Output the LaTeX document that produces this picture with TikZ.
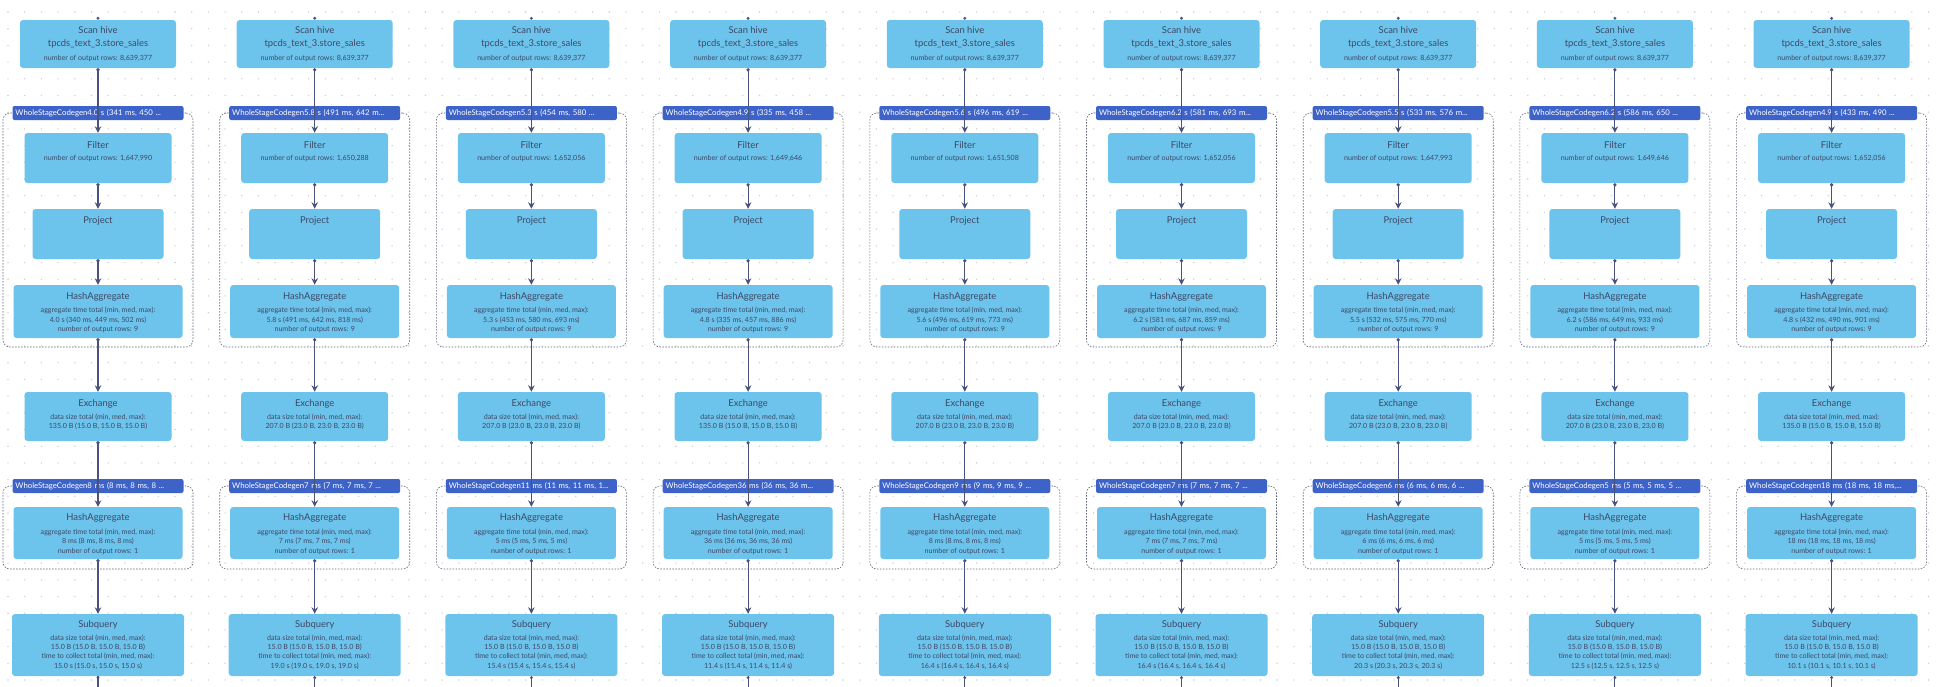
\documentclass[tikz,border=0pt]{standalone}
\usepackage{fontspec}
\setmainfont{Lato}
\usetikzlibrary{arrows.meta}
\definecolor{opfill}{RGB}{108,195,235}
\definecolor{optext}{RGB}{62,72,102}
\definecolor{wscgfill}{RGB}{61,99,201}
\definecolor{edgecol}{RGB}{72,82,125}
\definecolor{grpline}{RGB}{95,100,120}
\definecolor{griddot}{RGB}{205,208,216}

\begin{document}
\begin{tikzpicture}[x=1pt, y=-1pt,
    opbox/.style={fill=opfill, rounded corners=3pt, inner sep=0pt},
    optitle/.style={text=optext, font=\fontsize{9.4}{13}\selectfont, inner sep=0pt, align=center},
    opinfo/.style={text=optext, font=\fontsize{7.1}{9.3}\selectfont, inner sep=0pt, align=center},
    wscg/.style={fill=wscgfill, text=white, rounded corners=2pt, minimum height=14pt, text width=165pt, inner xsep=3pt, inner ysep=0pt, font=\fontsize{7.8}{9}\selectfont, align=left},
    grp/.style={draw=grpline, dash pattern=on 1.5pt off 1.5pt, line width=0.6pt, rounded corners=7pt, inner sep=0pt},
    flow/.style={draw=edgecol, line width=1.1pt, {Circle[length=3.2pt]}-{Stealth[length=6.5pt,width=6.5pt]}}
]
             \useasboundingbox (0,0) rectangle (1944,686);
             \begin{scope}
               \clip (0,0) rectangle (1944,686);
               \foreach \gx in {8,24.7,...,1944}
                 \foreach \gy in {12,28.7,...,686}
                   \fill[griddot] (\gx,\gy) circle (0.8pt);
             \end{scope}

             \foreach \i/\wsa/\flt/\hta/\exd/\wsb/\htb/\sqt [evaluate=\i as \cx using 98+216.7*(\i-1)] in {
               1/{4.0 s (341 ms, 450 ...}/{1,647,990}/{4.0 s (340 ms, 449 ms, 502 ms)}/{135.0 B (15.0 B, 15.0 B, 15.0 B)}/{8 ms (8 ms, 8 ms, 8 ...}/{8 ms (8 ms, 8 ms, 8 ms)}/{15.0 s (15.0 s, 15.0 s, 15.0 s)},
               2/{5.8 s (491 ms, 642 m...}/{1,650,288}/{5.8 s (491 ms, 642 ms, 818 ms)}/{207.0 B (23.0 B, 23.0 B, 23.0 B)}/{7 ms (7 ms, 7 ms, 7 ...}/{7 ms (7 ms, 7 ms, 7 ms)}/{19.0 s (19.0 s, 19.0 s, 19.0 s)},
               3/{5.3 s (454 ms, 580 ...}/{1,652,056}/{5.3 s (453 ms, 580 ms, 693 ms)}/{207.0 B (23.0 B, 23.0 B, 23.0 B)}/{11 ms (11 ms, 11 ms, 1...}/{5 ms (5 ms, 5 ms, 5 ms)}/{15.4 s (15.4 s, 15.4 s, 15.4 s)},
               4/{4.9 s (335 ms, 458 ...}/{1,649,646}/{4.8 s (335 ms, 457 ms, 886 ms)}/{135.0 B (15.0 B, 15.0 B, 15.0 B)}/{36 ms (36 ms, 36 m...}/{36 ms (36 ms, 36 ms, 36 ms)}/{11.4 s (11.4 s, 11.4 s, 11.4 s)},
               5/{5.6 s (496 ms, 619 ...}/{1,651,508}/{5.6 s (496 ms, 619 ms, 773 ms)}/{207.0 B (23.0 B, 23.0 B, 23.0 B)}/{9 ms (9 ms, 9 ms, 9 ...}/{8 ms (8 ms, 8 ms, 8 ms)}/{16.4 s (16.4 s, 16.4 s, 16.4 s)},
               6/{6.2 s (581 ms, 693 m...}/{1,652,056}/{6.2 s (581 ms, 687 ms, 859 ms)}/{207.0 B (23.0 B, 23.0 B, 23.0 B)}/{7 ms (7 ms, 7 ms, 7 ...}/{7 ms (7 ms, 7 ms, 7 ms)}/{16.4 s (16.4 s, 16.4 s, 16.4 s)},
               7/{5.5 s (533 ms, 576 m...}/{1,647,993}/{5.5 s (532 ms, 575 ms, 770 ms)}/{207.0 B (23.0 B, 23.0 B, 23.0 B)}/{6 ms (6 ms, 6 ms, 6 ...}/{6 ms (6 ms, 6 ms, 6 ms)}/{20.3 s (20.3 s, 20.3 s, 20.3 s)},
               8/{6.2 s (586 ms, 650 ...}/{1,649,646}/{6.2 s (586 ms, 649 ms, 933 ms)}/{207.0 B (23.0 B, 23.0 B, 23.0 B)}/{5 ms (5 ms, 5 ms, 5 ...}/{5 ms (5 ms, 5 ms, 5 ms)}/{12.5 s (12.5 s, 12.5 s, 12.5 s)},
               9/{4.9 s (433 ms, 490 ...}/{1,652,056}/{4.8 s (432 ms, 490 ms, 901 ms)}/{135.0 B (15.0 B, 15.0 B, 15.0 B)}/{18 ms (18 ms, 18 ms,...}/{18 ms (18 ms, 18 ms, 18 ms)}/{10.1 s (10.1 s, 10.1 s, 10.1 s)}} {
               \node[grp, minimum width=190pt, minimum height=234pt] (grpa\i) at (\cx,230) {};
               \node[grp, minimum width=190pt, minimum height=83pt] (grpb\i) at (\cx,527.5) {};

               \node[opbox, minimum width=156pt, minimum height=48pt] (scan\i) at (\cx,44) {};
               \node[optitle] (scant\i) at (\cx,37.5) {Scan hive\\tpcds\_text\_3.store\_sales};
               \node[opinfo] (scand\i) at (\cx,58) {number of output rows: 8,639,377};

               \node[wscg] (wsa\i) at (\cx,113) {\mbox{WholeStageCodegen\wsa}};

               \node[opbox, minimum width=147pt, minimum height=50pt] (filter\i) at (\cx,158) {};
               \node[optitle] (filtert\i) at (\cx,145) {Filter};
               \node[opinfo] (filterd\i) at (\cx,158) {number of output rows: \flt};

               \node[opbox, minimum width=131pt, minimum height=50pt] (proj\i) at (\cx,234) {};
               \node[optitle] (projt\i) at (\cx,221) {Project};

               \node[opbox, minimum width=169pt, minimum height=53pt] (hasha\i) at (\cx,311.5) {};
               \node[optitle] (hashat\i) at (\cx,297) {HashAggregate};
               \node[opinfo] (hashad\i) at (\cx,320) {aggregate time total (min, med, max):\\\hta\\number of output rows: 9};

               \node[opbox, minimum width=147pt, minimum height=49pt] (exch\i) at (\cx,416.5) {};
               \node[optitle] (excht\i) at (\cx,404) {Exchange};
               \node[opinfo] (exchd\i) at (\cx,422) {data size total (min, med, max):\\\exd};

               \node[wscg] (wsb\i) at (\cx,486) {\mbox{WholeStageCodegen\wsb}};

               \node[opbox, minimum width=169pt, minimum height=52pt] (hashb\i) at (\cx,533) {};
               \node[optitle] (hashbt\i) at (\cx,518) {HashAggregate};
               \node[opinfo] (hashbd\i) at (\cx,541.7) {aggregate time total (min, med, max):\\\htb\\number of output rows: 1};

               \node[opbox, minimum width=172pt, minimum height=62pt] (subq\i) at (\cx,645) {};
               \node[optitle] (subqt\i) at (\cx,625) {Subquery};
               \node[opinfo] (subqd\i) at (\cx,652) {data size total (min, med, max):\\15.0 B (15.0 B, 15.0 B, 15.0 B)\\time to collect total (min, med, max):\\\sqt};

               \coordinate (out\i) at (\cx,692);

               \fill[edgecol] ([yshift=1.5pt]scan\i.north) circle (1.6pt);
               \draw[flow] (scan\i.south) -- (filter\i.north);
               \draw[flow] (filter\i.south) -- (proj\i.north);
               \draw[flow] (proj\i.south) -- (hasha\i.north);
               \draw[flow] (hasha\i.south) -- (exch\i.north);
               \draw[flow] (exch\i.south) -- (hashb\i.north);
               \draw[flow] (hashb\i.south) -- (subq\i.north);
               \draw[flow, -] (subq\i.south) -- (out\i);
               \fill[edgecol] ([yshift=-1.5pt]subq\i.south) circle (1.6pt);
             }

         \end{tikzpicture}
\end{document}
